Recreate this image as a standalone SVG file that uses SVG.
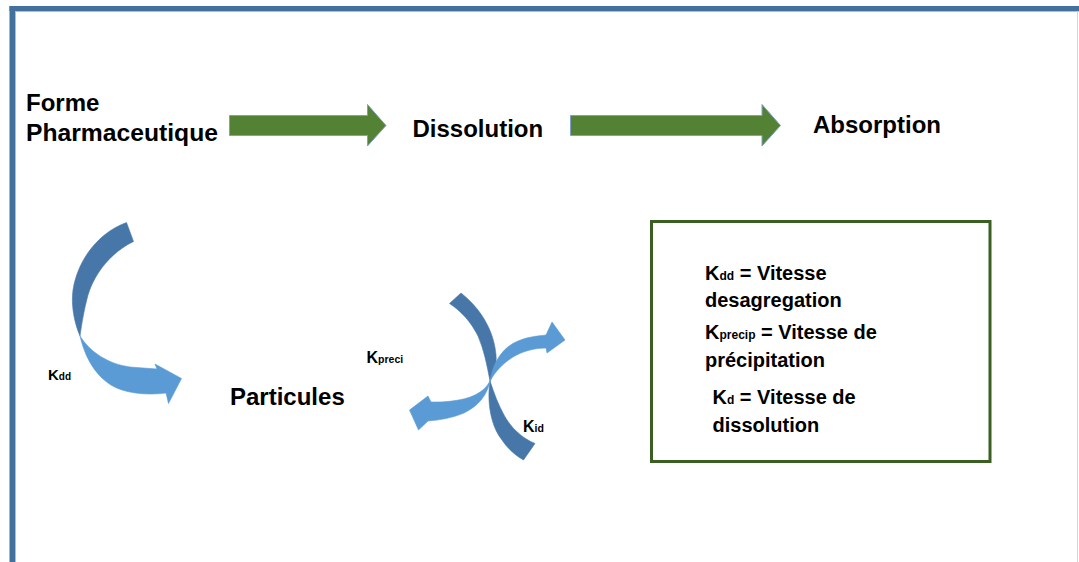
<svg xmlns="http://www.w3.org/2000/svg" width="1079" height="562" viewBox="0 0 1079 562">
<style>
.t{font-family:"Liberation Sans",Arial,sans-serif;font-weight:bold;fill:#000}
.big{font-size:24px}
.mid{font-size:20px}
.sub{font-size:12px}
.green{fill:#548235;stroke:#7f9fc4;stroke-width:1}
.dark{fill:#4677a8;stroke:#4677a8;stroke-width:0.6}
.light{fill:#5b9bd5;stroke:#5b9bd5;stroke-width:0.6}
</style>
<rect x="0" y="0" width="1079" height="562" fill="#fff"/>
<g id="frame">
<rect x="9.5" y="6" width="1069.5" height="5" fill="#41719c"/>
<rect x="9.5" y="6" width="5.5" height="556" fill="#41719c"/>
<line x1="15" y1="11.5" x2="1079" y2="11.5" stroke="#a9c0d8" stroke-width="1"/>
<line x1="15.5" y1="11" x2="15.5" y2="562" stroke="#a9c0d8" stroke-width="1"/>
<line x1="1077.5" y1="11" x2="1077.5" y2="562" stroke="#d0d6de" stroke-width="1"/>
</g>
<g id="connectors">
<path class="green" d="M229.5,115.5 H367.5 V104.5 L386,125.5 L367.5,146 V135.5 H229.5 Z"/>
<path class="green" d="M570.5,115.5 H762 V104.5 L780.5,125.5 L762,146 V135.5 H570.5 Z"/>
<g id="arrow-kdd">
<path class="dark" d="M126.5,222.5 L133.5,241.5 C112,252 95,272 88,295 C84,310 82,322 80,336 C74,322 71,305 73,290 C78,258 100,232 126.5,222.5 Z"/>
<path class="light" d="M80,336 C90,352 108,364 130,367 L157,369 L155,364 L181.5,378.5 L168.5,403.5 L166,393 C150,395 135,394 122,390 C100,383 86,362 80,336 Z"/>
</g>
<g id="arrow-kid">
<path class="dark" d="M449.5,303.5 L461,293 C480,308 494,330 496,355 C497,365 494,373 490,381 C487,365 484,350 478,336 C471,322 461,311 449.5,303.5 Z"/>
<path class="dark" d="M490,381 C487,400 490,425 502,440 C508,449 515,455 523.5,460 L535,443.5 C522,438 511,428 504,415 C498,404 494,393 490,381 Z"/>
</g>
<g id="arrow-kpreci">
<path class="light" d="M490,381 C493,362 503,347 518,341 C527,337 537,336 546,335 L552,322 L565,340 L547,353 L546,348 C535,348 523,351 513,357 C502,364 495,372 490,381 Z"/>
<path class="light" d="M490,381 C484,393 470,399 452,401 C445,402 438,402 431,402 L428,396 L409.5,410 L418.5,430 L428,421 C440,420 452,418 464,413 C478,406 487,396 490,381 Z"/>
</g>
</g>
<g id="node-forme">
<text class="t big" x="26" y="110.5">Forme</text>
<text class="t big" x="26" y="141" textLength="192" lengthAdjust="spacingAndGlyphs">Pharmaceutique</text>
</g>
<g id="node-dissolution"><text class="t big" x="412.5" y="136.5">Dissolution</text></g>
<g id="node-absorption"><text class="t big" x="813" y="133">Absorption</text></g>
<g id="node-particules"><text class="t big" x="230" y="405">Particules</text></g>
<g id="label-kdd"><text class="t" x="48" y="379.5" font-size="15">K<tspan font-size="10">dd</tspan></text></g>
<g id="label-kpreci"><text class="t" x="366.5" y="362.5" font-size="16">K<tspan font-size="10.5">preci</tspan></text></g>
<g id="label-kid"><text class="t" x="523" y="431.5" font-size="16">K<tspan font-size="10.5">id</tspan></text></g>
<g id="legend">
<rect x="651.5" y="221.5" width="338.5" height="240" fill="#fff" stroke="#3b5e22" stroke-width="3"/>
<text class="t mid" x="705" y="280">K<tspan class="sub">dd</tspan> = Vitesse</text>
<text class="t mid" x="705" y="307">desagregation</text>
<text class="t mid" x="705" y="338.5">K<tspan class="sub">precip</tspan> = Vitesse de</text>
<text class="t mid" x="705" y="367">précipitation</text>
<text class="t mid" x="712.5" y="403.5">K<tspan class="sub">d</tspan> = Vitesse de</text>
<text class="t mid" x="712.5" y="432">dissolution</text>
</g>
</svg>
